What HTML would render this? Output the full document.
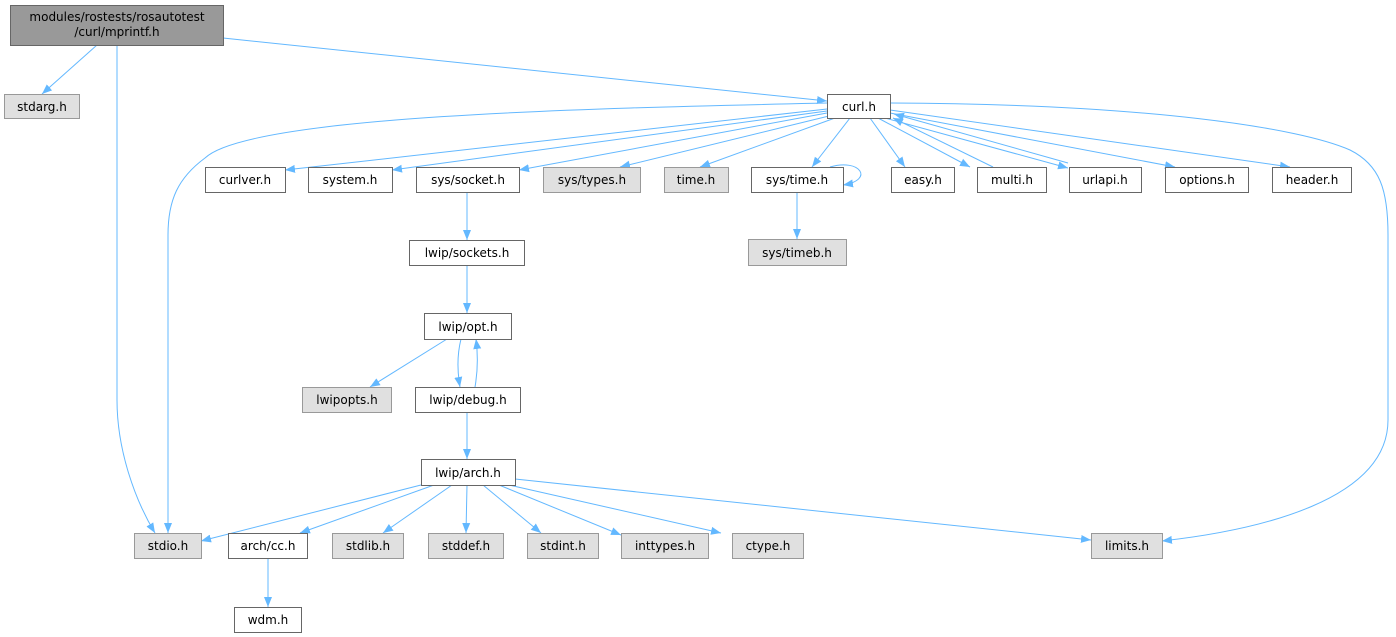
<!DOCTYPE html>
<html><head><meta charset="utf-8"><style>
html,body{margin:0;padding:0;background:#fff;}
svg{display:block;}
text{font-family:"DejaVu Sans","Liberation Sans",sans-serif;font-size:12px;fill:#000;}
</style></head><body>
<svg width="1396" height="637" viewBox="0 0 1396 637" xmlns="http://www.w3.org/2000/svg">
<defs>
<marker id="a" viewBox="0 0 10 10" refX="10" refY="5" markerWidth="10" markerHeight="10" markerUnits="userSpaceOnUse" orient="auto">
<path d="M0,1 L10,5 L0,9 z" fill="#63b8ff"/>
</marker>
</defs>
<g fill="none" stroke="#63b8ff" stroke-width="1" marker-end="url(#a)">
<path d="M97,45 L42,94"/>
<path d="M117,45 L117,400 C117,450 135,500 155,533"/>
<path d="M223,38 L827,101"/>
<path d="M827,103 C600,108 250,115 205,158 C178,178 168,200 168,235 L168,533"/>
<path d="M890,103 C1150,104 1300,128 1350,150 C1380,165 1388,190 1388,235 L1388,420 C1388,500 1260,530 1162,541"/>
<path d="M827,109 L285,170"/>
<path d="M827,111 L392,170"/>
<path d="M827,113 L519,170"/>
<path d="M829,116 L620,167"/>
<path d="M835,118 L700,167"/>
<path d="M850,118 L812,167"/>
<path d="M870,118 L905,167"/>
<path d="M878,118 L970,167"/>
<path d="M993,167 L893,118"/>
<path d="M885,118 L1068,168"/>
<path d="M1068,163 L894,114"/>
<path d="M890,113 L1175,167"/>
<path d="M890,110 L1290,167"/>
<path d="M830,167 C860,158 875,180 843,185"/>
<path d="M797,192 L797,239"/>
<path d="M467,192 L467,240"/>
<path d="M467,265 L467,313"/>
<path d="M447,339 L370,387"/>
<path d="M461,339 C457,355 457,370 460,387"/>
<path d="M475,387 C478,370 478,355 476,339"/>
<path d="M467,412 L467,459"/>
<path d="M421,485 L201,541"/>
<path d="M434,485 L300,533"/>
<path d="M452,485 L383,533"/>
<path d="M467,485 L466,533"/>
<path d="M483,485 L541,533"/>
<path d="M499,485 L621,535"/>
<path d="M509,485 L721,533"/>
<path d="M515,479 L1091,540"/>
<path d="M268,558 L268,607"/>
</g>
<g stroke="#666" stroke-width="1">
<rect x="10.5" y="5.5" width="213" height="40" fill="#999"/>
<rect x="4.5" y="94.5" width="75" height="24" fill="#e0e0e0" stroke="#999"/>
<rect x="827.5" y="94.5" width="63" height="24" fill="#fff"/>
<rect x="205.5" y="167.5" width="80" height="25" fill="#fff"/>
<rect x="308.5" y="167.5" width="84" height="25" fill="#fff"/>
<rect x="416.5" y="167.5" width="103" height="25" fill="#fff"/>
<rect x="543.5" y="167.5" width="97" height="25" fill="#e0e0e0" stroke="#999"/>
<rect x="664.5" y="167.5" width="64" height="25" fill="#e0e0e0" stroke="#999"/>
<rect x="751.5" y="167.5" width="92" height="25" fill="#fff"/>
<rect x="891.5" y="167.5" width="63" height="25" fill="#fff"/>
<rect x="977.5" y="167.5" width="69" height="25" fill="#fff"/>
<rect x="1069.5" y="167.5" width="72" height="25" fill="#fff"/>
<rect x="1165.5" y="167.5" width="83" height="25" fill="#fff"/>
<rect x="1272.5" y="167.5" width="79" height="25" fill="#fff"/>
<rect x="748.5" y="239.5" width="98" height="26" fill="#e0e0e0" stroke="#999"/>
<rect x="409.5" y="240.5" width="115" height="25" fill="#fff"/>
<rect x="424.5" y="313.5" width="87" height="26" fill="#fff"/>
<rect x="302.5" y="387.5" width="89" height="25" fill="#e0e0e0" stroke="#999"/>
<rect x="415.5" y="387.5" width="105" height="25" fill="#fff"/>
<rect x="421.5" y="459.5" width="94" height="26" fill="#fff"/>
<rect x="134.5" y="533.5" width="67" height="25" fill="#e0e0e0" stroke="#999"/>
<rect x="228.5" y="533.5" width="79" height="25" fill="#fff"/>
<rect x="332.5" y="533.5" width="71" height="25" fill="#e0e0e0" stroke="#999"/>
<rect x="428.5" y="533.5" width="75" height="25" fill="#e0e0e0" stroke="#999"/>
<rect x="527.5" y="533.5" width="71" height="25" fill="#e0e0e0" stroke="#999"/>
<rect x="621.5" y="533.5" width="87" height="25" fill="#e0e0e0" stroke="#999"/>
<rect x="732.5" y="533.5" width="71" height="25" fill="#e0e0e0" stroke="#999"/>
<rect x="1091.5" y="533.5" width="71" height="25" fill="#e0e0e0" stroke="#999"/>
<rect x="234.5" y="607.5" width="67" height="25" fill="#fff"/>
</g>
<g text-anchor="middle">
<text x="117" y="21">modules/rostests/rosautotest</text>
<text x="117" y="36">/curl/mprintf.h</text>
<text x="42" y="111">stdarg.h</text>
<text x="859" y="111">curl.h</text>
<text x="245" y="184">curlver.h</text>
<text x="350" y="184">system.h</text>
<text x="468" y="184">sys/socket.h</text>
<text x="592" y="184">sys/types.h</text>
<text x="696" y="184">time.h</text>
<text x="797" y="184">sys/time.h</text>
<text x="923" y="184">easy.h</text>
<text x="1012" y="184">multi.h</text>
<text x="1105" y="184">urlapi.h</text>
<text x="1207" y="184">options.h</text>
<text x="1312" y="184">header.h</text>
<text x="797" y="257">sys/timeb.h</text>
<text x="467" y="257">lwip/sockets.h</text>
<text x="468" y="331">lwip/opt.h</text>
<text x="347" y="404">lwipopts.h</text>
<text x="468" y="404">lwip/debug.h</text>
<text x="468" y="477">lwip/arch.h</text>
<text x="168" y="550">stdio.h</text>
<text x="268" y="550">arch/cc.h</text>
<text x="368" y="550">stdlib.h</text>
<text x="466" y="550">stddef.h</text>
<text x="563" y="550">stdint.h</text>
<text x="665" y="550">inttypes.h</text>
<text x="768" y="550">ctype.h</text>
<text x="1127" y="550">limits.h</text>
<text x="268" y="624">wdm.h</text>
</g>
</svg>
</body></html>
